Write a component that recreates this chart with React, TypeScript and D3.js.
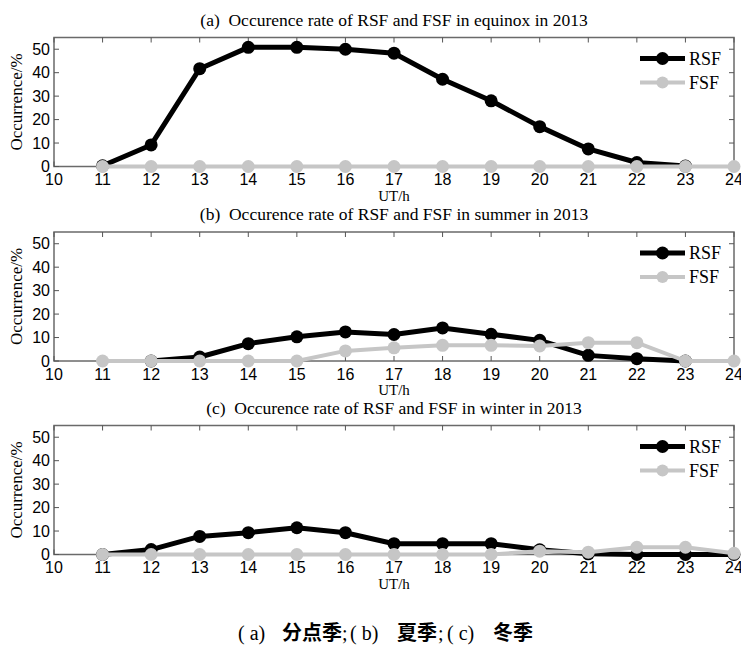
import React, { useEffect, useRef } from "react";
import * as d3 from "d3";

// hours on the x axis (points start at 11 UT)
const hours = [11, 12, 13, 14, 15, 16, 17, 18, 19, 20, 21, 22, 23, 24];
const xTicks = [10, 11, 12, 13, 14, 15, 16, 17, 18, 19, 20, 21, 22, 23, 24];
const yTicks = [0, 10, 20, 30, 40, 50];

const titles = [
  "(a)  Occurence rate of RSF and FSF in equinox in 2013",
  "(b)  Occurence rate of RSF and FSF in summer in 2013",
  "(c)  Occurence rate of RSF and FSF in winter in 2013",
];

// occurrence (%), null = no point plotted
const rsfEquinox = [0.3, 9.2, 41.7, 50.8, 50.8, 50, 48.3, 37.2, 28, 17, 7.5, 1.7, 0.2, null];
const fsfEquinox = [0, 0, 0, 0, 0, 0, 0, 0, 0, 0, 0, 0, 0, 0];
const rsfSummer = [null, 0, 1.7, 7.4, 10.3, 12.4, 11.3, 14.1, 11.4, 8.8, 2.4, 1, 0, null];
const fsfSummer = [0, 0, 0, 0, 0, 4.3, 5.6, 6.7, 6.7, 6.4, 7.8, 7.8, 0, 0];
const rsfWinter = [0, 2.1, 7.7, 9.3, 11.4, 9.3, 4.6, 4.6, 4.6, 2, 0.3, 0, 0, 0];
const fsfWinter = [0, 0, 0, 0, 0, 0, 0, 0, 0, 1.4, 1, 3.1, 3.1, 0.5];

const rsfSeries = [rsfEquinox, rsfSummer, rsfWinter];
const fsfSeries = [fsfEquinox, fsfSummer, fsfWinter];

const captionParts = ["( a)", "分点季", ";", "( b)", "夏季", ";", "( c)", "冬季"];

const W = 741;
const H = 646;
const left = 54;
const right = 734;
const panelTops = [37.5, 232, 425.5];
const panelH = 129;

const BLACK = "#000";
const GREY = "#c6c6c6";

export default function App() {
  const ref = useRef<SVGSVGElement>(null);

  useEffect(() => {
    const svg = d3.select(ref.current);
    svg.selectAll("*").remove();

    const x = d3.scaleLinear().domain([10, 24]).range([left, right]);

    panelTops.forEach((top, i) => {
      const y = d3.scaleLinear().domain([0, 55]).range([top + panelH, top]);
      const g = svg.append("g");

      // title
      g.append("text")
        .attr("x", (left + right) / 2)
        .attr("y", top - 12)
        .attr("text-anchor", "middle")
        .attr("font-family", "Liberation Serif")
        .attr("font-size", 17.5)
        .style("white-space", "pre")
        .text(titles[i]);

      // frame
      g.append("rect")
        .attr("x", left)
        .attr("y", top)
        .attr("width", right - left)
        .attr("height", panelH)
        .attr("fill", "none")
        .attr("stroke", "#6a6a6a")
        .attr("stroke-width", 1.5);

      const tl = 5;
      xTicks.forEach((t) => {
        g.append("line")
          .attr("x1", x(t)).attr("x2", x(t))
          .attr("y1", top).attr("y2", top + tl)
          .attr("stroke", "#555");
        g.append("line")
          .attr("x1", x(t)).attr("x2", x(t))
          .attr("y1", top + panelH).attr("y2", top + panelH - tl)
          .attr("stroke", "#555");
        g.append("text")
          .attr("x", x(t))
          .attr("y", top + panelH + 18.5)
          .attr("text-anchor", "middle")
          .attr("font-family", "Liberation Sans")
          .attr("font-size", 16)
          .text(t);
      });
      yTicks.forEach((t) => {
        g.append("line")
          .attr("x1", left).attr("x2", left + tl)
          .attr("y1", y(t)).attr("y2", y(t))
          .attr("stroke", "#555");
        g.append("line")
          .attr("x1", right).attr("x2", right - tl)
          .attr("y1", y(t)).attr("y2", y(t))
          .attr("stroke", "#555");
        g.append("text")
          .attr("x", left - 4)
          .attr("y", y(t))
          .attr("dy", "0.36em")
          .attr("text-anchor", "end")
          .attr("font-family", "Liberation Sans")
          .attr("font-size", 16)
          .text(t);
      });

      // axis labels
      g.append("text")
        .attr("x", (left + right) / 2)
        .attr("y", top + panelH + 34)
        .attr("text-anchor", "middle")
        .attr("font-family", "Liberation Serif")
        .attr("font-size", 15)
        .text("UT/h");
      g.append("text")
        .attr("transform", `translate(22,${top + panelH / 2}) rotate(-90)`)
        .attr("text-anchor", "middle")
        .attr("font-family", "Liberation Serif")
        .attr("font-size", 17)
        .text("Occurrence/%");

      const line = d3.line<number | null>()
        .defined((d) => d !== null)
        .x((d, j) => x(hours[j]))
        .y((d) => y(d as number));

      const series = [
        { data: rsfSeries[i], color: BLACK, width: 5, r: 6.5 },
        { data: fsfSeries[i], color: GREY, width: 4, r: 6.5 },
      ];

      series.forEach((s) => {
        g.append("path")
          .attr("d", line(s.data))
          .attr("fill", "none")
          .attr("stroke", s.color)
          .attr("stroke-width", s.width)
          .attr("stroke-linejoin", "round");
        const pts = s.data
          .map((d, j) => ({ h: hours[j], v: d }))
          .filter((p) => p.v !== null);
        g.selectAll(null)
          .data(pts)
          .enter()
          .append("circle")
          .attr("cx", (p) => x(p.h))
          .attr("cy", (p) => y(p.v as number))
          .attr("r", s.r)
          .attr("fill", s.color);
      });

      // legend
      const legend = [
        { name: "RSF", color: BLACK, width: 5, r: 6.5, dy: 21 },
        { name: "FSF", color: GREY, width: 4, r: 6, dy: 45 },
      ];
      legend.forEach((l) => {
        const ly = top + l.dy;
        g.append("line")
          .attr("x1", 640).attr("x2", 685)
          .attr("y1", ly).attr("y2", ly)
          .attr("stroke", l.color)
          .attr("stroke-width", l.width);
        g.append("circle")
          .attr("cx", 662.5).attr("cy", ly)
          .attr("r", l.r)
          .attr("fill", l.color);
        g.append("text")
          .attr("x", 689)
          .attr("y", ly)
          .attr("dy", "0.35em")
          .attr("font-family", "Liberation Serif")
          .attr("font-size", 18)
          .text(l.name);
      });
    });

    // figure caption
    const capX = [238, 282, 342, 350, 397, 438, 447, 493];
    captionParts.forEach((t, k) => {
      const cjk = /[\u4e00-\u9fff]/.test(t);
      svg.append("text")
        .attr("x", capX[k])
        .attr("y", 640)
        .attr("font-family", cjk ? "Noto Sans CJK SC" : "Liberation Serif")
        .attr("font-weight", cjk ? 700 : 400)
        .attr("font-size", 20)
        .style("white-space", "pre")
        .text(t);
    });
  }, []);

  return (
    <div style={{ position: "absolute", left: 0, top: 0 }}>
      <svg ref={ref} width={W} height={H} style={{ display: "block", background: "#fff" }} />
    </div>
  );
}
